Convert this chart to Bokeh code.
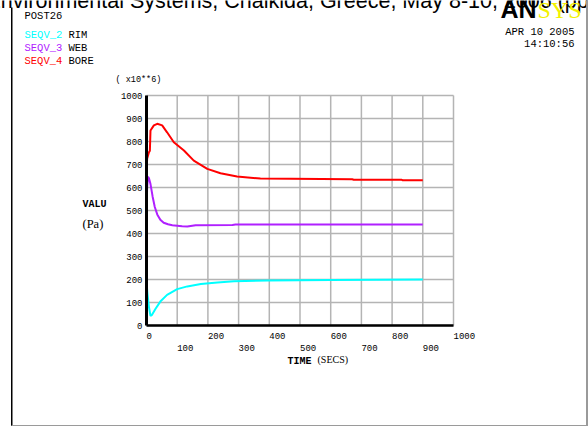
from bokeh.plotting import figure
from bokeh.models import Range1d, Label, BoxAnnotation
from bokeh.core.properties import value
from bokeh.embed import file_html
from bokeh.resources import INLINE

# POST26 time-history: von Mises stress (x10**6 Pa) at three disc locations
rim_time = [0, 1, 3, 8, 13, 17, 29, 45, 67, 100, 133, 177, 231, 285, 393, 600, 900]
rim_seqv = [196, 175, 140, 80, 42, 45, 72, 104, 133, 158, 170, 180, 187, 192, 196, 198, 200]

web_time = [0, 2, 5, 8, 13, 20, 27, 35, 45, 56, 70, 84, 116, 133, 160, 280, 290, 900]
web_seqv = [450, 600, 647, 640, 615, 560, 515, 483, 460, 447, 440, 436, 432, 430, 436, 437, 439, 439]

bore_time = [0, 2, 8, 11, 13, 24, 35, 51, 67, 89, 122, 154, 198, 241, 295, 371, 670, 675, 830, 835, 900]
bore_seqv = [630, 725, 753, 760, 848, 870, 877, 870, 840, 797, 761, 717, 681, 662, 648, 639, 636, 634, 634, 631, 631]

x_ticks = [0, 100, 200, 300, 400, 500, 600, 700, 800, 900, 1000]
y_ticks = [0, 100, 200, 300, 400, 500, 600, 700, 800, 900, 1000]

series_names = ["RIM", "WEB", "BORE"]
series_ids = ["SEQV_2", "SEQV_3", "SEQV_4"]
series_colors = ["#00ffff", "#b020ff", "#ff0000"]

MONO = "Liberation Mono"
GRID = "#b4b4b4"

# page size and the pixel box that holds the 0..1000 x 0..1000 graph
W, H = 588, 426
FL, FR, FT, FB = 146, 453, 95, 325
XMIN, XMAX = x_ticks[0], x_ticks[-1]
YMIN, YMAX = y_ticks[0], y_ticks[-1]


def px_x(px):
    """page pixel column -> time units"""
    return XMIN + (px - FL) * (XMAX - XMIN) / (FR - FL)


def px_y(py):
    """page pixel row (from top) -> stress units"""
    return YMIN + (FB - py) * (YMAX - YMIN) / (FB - FT)


# the drawing area covers the whole page so that page annotations are not clipped
p = figure(width=W, height=H, output_backend="svg", toolbar_location=None,
           x_range=Range1d(px_x(0), px_x(W)), y_range=Range1d(px_y(H), px_y(0)),
           x_axis_type=None, y_axis_type=None, min_border=0)
p.title.visible = False
p.outline_line_color = None
p.background_fill_color = "white"
p.border_fill_color = "white"
p.grid.visible = False

n = len(x_ticks)
m = len(y_ticks)

# grid
p.segment(x0=x_ticks, y0=[YMIN] * n, x1=x_ticks, y1=[YMAX] * n,
          line_color=GRID, line_width=1.5)
p.segment(x0=[XMIN] * m, y0=y_ticks, x1=[XMAX] * m, y1=y_ticks,
          line_color=GRID, line_width=1.5)

# curves
for tt, vv, c in ((rim_time, rim_seqv, series_colors[0]),
                  (web_time, web_seqv, series_colors[1]),
                  (bore_time, bore_seqv, series_colors[2])):
    p.line(tt, vv, line_color=c, line_width=2)

# axis lines
p.segment(x0=[XMIN], y0=[YMIN], x1=[XMIN], y1=[YMAX], line_color="black", line_width=3)
p.segment(x0=[XMIN], y0=[YMIN], x1=[XMAX], y1=[YMIN], line_color="black", line_width=2.5)

# stress tick labels
p.text(x=[XMIN] * m, y=y_ticks, text=[str(v) for v in y_ticks], x_offset=-4,
       text_align="right", text_baseline="middle", text_color="black",
       text_font=value(MONO), text_font_size=value("9px"))

# staggered time tick labels: even hundreds on the first row, odd on the second
even = x_ticks[0::2]
odd = x_ticks[1::2]
p.text(x=even, y=[YMIN] * len(even), text=[str(t) for t in even], y_offset=10,
       text_align="left", text_baseline="middle", text_color="black",
       text_font=value(MONO), text_font_size=value("9px"))
p.text(x=odd, y=[YMIN] * len(odd), text=[str(t) for t in odd], y_offset=22,
       text_align="left", text_baseline="middle", text_color="black",
       text_font=value(MONO), text_font_size=value("9px"))


def label(x, y, text, font=MONO, size="10.5px", color="black", align="left",
          style="normal"):
    p.add_layout(Label(x=px_x(x), y=px_y(y), text=text,
                       text_font=font, text_font_size=size, text_color=color,
                       text_align=align, text_baseline="middle", text_font_style=style))


# page header (its upper half runs off the page) and logo
label(-14, 0.5, "Environmental Systems, Chalkida, Greece, May 8-10, 2006 (pp",
      font="Liberation Sans", size="21.5px")
label(500, 8.5, "AN", font="Liberation Sans", size="25px", style="bold")
label(537, 9, "SYS", font="Liberation Serif", size="24px", color="#f2f200")

label(24, 15.5, "POST26")
for i, (sid, name, col) in enumerate(zip(series_ids, series_names, series_colors)):
    y = 34 + i * 13.3
    label(24, y, sid, color=col)
    label(68, y, name)

label(574, 31, "APR 10 2005", align="right")
label(574, 43.5, "14:10:56", align="right")

# axis titles
label(115, 79, "( x10**6)", size="8.5px")
label(82, 204, "VALU", style="bold", size="10px")
label(82, 223, "(Pa)", font="Liberation Serif", size="12.5px")
label(287, 361, "TIME", style="bold", size="10px")
label(317, 359, "(SECS)", font="Liberation Serif", size="10px")

# outer page frame
for l, r, t, b, c in ((10.5, 12, 7, 426, "black"),
                      (11, 587, 424.5, 426, "#9a9a9a"),
                      (585.5, 587.5, 0, 426, "#9a9a9a")):
    p.add_layout(BoxAnnotation(left=px_x(l), right=px_x(r), top=px_y(t), bottom=px_y(b),
                               fill_color=c, fill_alpha=1, line_color=None))

open("out.html", "w").write(file_html(p, INLINE))
